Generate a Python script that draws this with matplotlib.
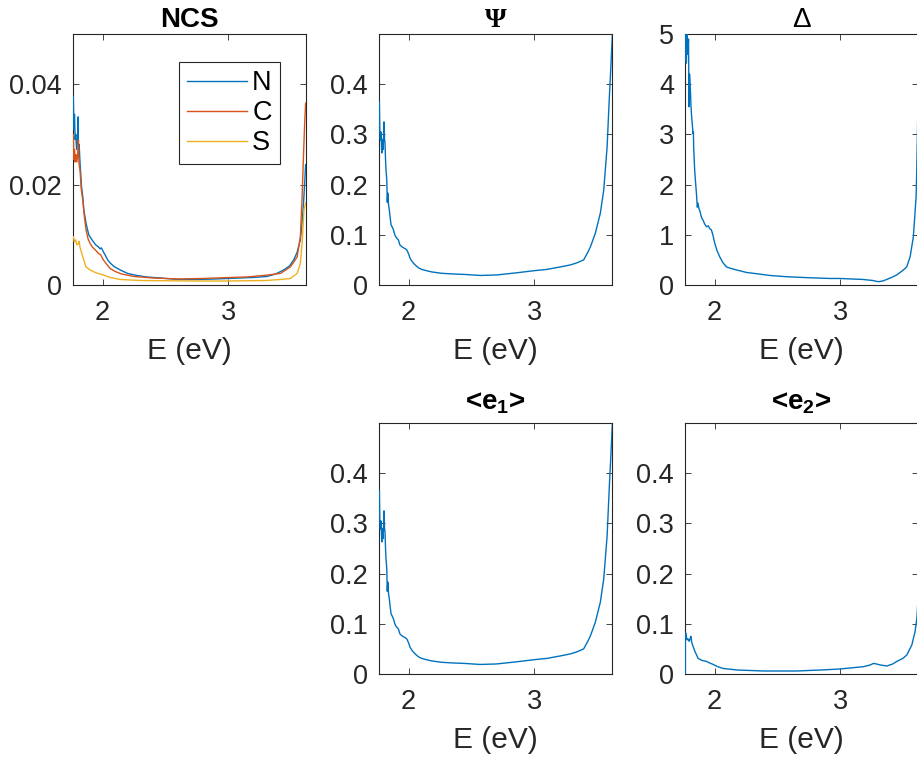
import matplotlib
matplotlib.use("Agg")
import matplotlib.pyplot as plt

plt.rcParams['font.family'] = ['Liberation Sans', 'DejaVu Sans']
plt.rcParams['mathtext.fontset'] = 'custom'
plt.rcParams['mathtext.rm'] = 'Liberation Sans:bold'
plt.rcParams['mathtext.bf'] = 'Liberation Sans:bold'

# ---------------- data ----------------
# NCS panel
ncs_E_N = [1.767, 1.771, 1.776, 1.781, 1.786, 1.793, 1.800, 1.805, 1.808, 1.813, 1.820, 1.826,
           1.832, 1.842, 1.850, 1.860, 1.868, 1.880, 1.890, 1.900, 1.915, 1.930, 1.945, 1.955,
           1.967, 1.980, 1.990, 2.006, 2.020, 2.040, 2.060, 2.090, 2.140, 2.200, 2.273, 2.350,
           2.459, 2.600, 2.750, 2.900, 3.000, 3.100, 3.200, 3.310, 3.380, 3.443, 3.490, 3.523,
           3.550, 3.576, 3.590, 3.603, 3.612, 3.618]
ncs_N = [0.0375, 0.031, 0.034, 0.029, 0.030, 0.027, 0.029, 0.0335, 0.026, 0.028, 0.0243, 0.022,
         0.0195, 0.0176, 0.015, 0.0135, 0.0123, 0.0110, 0.0100, 0.0096, 0.0090, 0.0085, 0.0080, 0.0078,
         0.0076, 0.0072, 0.0074, 0.0066, 0.0060, 0.0050, 0.0044, 0.0037, 0.0030, 0.0023, 0.0019, 0.0016,
         0.0014, 0.0011, 0.0011, 0.0012, 0.0013, 0.0014, 0.0015, 0.0017, 0.0022, 0.0030, 0.0038, 0.0050,
         0.0065, 0.0090, 0.0125, 0.0170, 0.021, 0.024]

ncs_E_C = [1.767, 1.771, 1.776, 1.781, 1.788, 1.795, 1.802, 1.807, 1.812, 1.820, 1.830, 1.842,
           1.855, 1.868, 1.884, 1.900, 1.920, 1.945, 1.967, 1.985, 2.006, 2.030, 2.060, 2.100,
           2.150, 2.250, 2.400, 2.600, 2.800, 3.018, 3.150, 3.283, 3.350, 3.416, 3.460, 3.496,
           3.530, 3.550, 3.576, 3.590, 3.600, 3.610, 3.618]
ncs_C = [0.0300, 0.025, 0.027, 0.0245, 0.026, 0.0245, 0.0262, 0.0289, 0.024, 0.0229, 0.019, 0.0169,
         0.0135, 0.0110, 0.0092, 0.0083, 0.0075, 0.0069, 0.0063, 0.0060, 0.0050, 0.0042, 0.0033, 0.0027,
         0.0022, 0.0017, 0.0014, 0.0012, 0.0013, 0.0015, 0.0016, 0.0019, 0.0021, 0.0023, 0.0030, 0.0036,
         0.0048, 0.0056, 0.0096, 0.0176, 0.025, 0.032, 0.0362]

ncs_E_S = [1.767, 1.775, 1.785, 1.795, 1.807, 1.812, 1.820, 1.842, 1.868, 1.900, 1.950, 2.006,
           2.060, 2.140, 2.300, 2.459, 2.700, 3.000, 3.300, 3.416, 3.496, 3.550, 3.576, 3.590,
           3.605, 3.618]
ncs_S = [0.0096, 0.0086, 0.0090, 0.0080, 0.0083, 0.0087, 0.0075, 0.0056, 0.0036, 0.0030, 0.0024, 0.0020,
         0.0015, 0.0011, 0.0009, 0.00086, 0.0008, 0.0008, 0.0009, 0.0011, 0.0013, 0.0023, 0.0043, 0.0083,
         0.0150, 0.0163]

# Psi panel
psi_E = [1.767, 1.771, 1.775, 1.780, 1.786, 1.792, 1.797, 1.801, 1.804, 1.808, 1.812, 1.816,
         1.820, 1.826, 1.830, 1.834, 1.840, 1.846, 1.852, 1.860, 1.870, 1.879, 1.890, 1.900,
         1.910, 1.919, 1.930, 1.946, 1.960, 1.975, 1.986, 2.000, 2.012, 2.030, 2.052, 2.080,
         2.105, 2.150, 2.185, 2.265, 2.350, 2.451, 2.570, 2.700, 2.850, 3.000, 3.100, 3.209,
         3.289, 3.340, 3.395, 3.430, 3.449, 3.488, 3.528, 3.555, 3.582, 3.600, 3.613, 3.624]
psi = [0.365, 0.300, 0.289, 0.305, 0.263, 0.290, 0.270, 0.300, 0.325, 0.290, 0.283, 0.250,
       0.229, 0.210, 0.165, 0.183, 0.160, 0.150, 0.136, 0.120, 0.115, 0.110, 0.100, 0.095,
       0.092, 0.0896, 0.080, 0.0763, 0.074, 0.072, 0.0697, 0.062, 0.053, 0.046, 0.040, 0.034,
       0.031, 0.028, 0.026, 0.0233, 0.022, 0.021, 0.019, 0.020, 0.024, 0.0285, 0.031, 0.036,
       0.040, 0.044, 0.050, 0.066, 0.076, 0.103, 0.143, 0.189, 0.275, 0.375, 0.440, 0.500]

# Delta panel
delta_E = [1.767, 1.771, 1.775, 1.779, 1.783, 1.788, 1.792, 1.796, 1.800, 1.807, 1.811, 1.815,
           1.822, 1.828, 1.831, 1.833, 1.841, 1.848, 1.855, 1.862, 1.868, 1.875, 1.881, 1.895,
           1.908, 1.920, 1.935, 1.950, 1.962, 1.974, 1.988, 2.001, 2.020, 2.041, 2.065, 2.094,
           2.130, 2.174, 2.254, 2.350, 2.440, 2.573, 2.750, 2.920, 3.000, 3.184, 3.260, 3.304,
           3.340, 3.371, 3.410, 3.451, 3.500, 3.531, 3.558, 3.584, 3.606, 3.611, 3.624]
delta = [5.20, 4.50, 4.42, 5.00, 4.60, 4.68, 4.90, 3.55, 4.20, 3.88, 3.60, 3.42,
         3.20, 3.02, 3.05, 2.75, 2.29, 2.05, 1.83, 1.55, 1.63, 1.52, 1.49, 1.35,
         1.29, 1.22, 1.16, 1.18, 1.12, 1.10, 0.98, 0.83, 0.68, 0.56, 0.45, 0.36,
         0.33, 0.30, 0.25, 0.22, 0.19, 0.165, 0.145, 0.13, 0.13, 0.11, 0.09, 0.066,
         0.08, 0.11, 0.15, 0.20, 0.29, 0.36, 0.56, 0.96, 1.76, 2.29, 4.00]

# <e1> panel (same shape as Psi in the picture)
e1_E = list(psi_E)
e1 = list(psi)

# <e2> panel
e2_E = [1.767, 1.767, 1.771, 1.776, 1.781, 1.788, 1.797, 1.804, 1.811, 1.817, 1.824, 1.843,
        1.869, 1.900, 1.936, 1.960, 1.989, 2.020, 2.069, 2.176, 2.388, 2.655, 2.850, 3.000,
        3.186, 3.240, 3.266, 3.290, 3.319, 3.373, 3.420, 3.452, 3.500, 3.532, 3.572, 3.598,
        3.612, 3.624]
e2 = [0.0, 0.078, 0.081, 0.072, 0.068, 0.070, 0.065, 0.070, 0.075, 0.064, 0.058, 0.045,
      0.031, 0.027, 0.025, 0.022, 0.019, 0.015, 0.011, 0.008, 0.006, 0.006, 0.008, 0.010,
      0.0146, 0.018, 0.021, 0.020, 0.018, 0.016, 0.020, 0.025, 0.031, 0.038, 0.058, 0.085,
      0.111, 0.160]

xlim = (1.764, 3.621)
c_blue, c_red, c_yel = '#0072BD', '#D95319', '#EDB120'
dark = '#262626'

# ---------------- figure ----------------
W, H = 917, 759
fig = plt.figure(figsize=(W / 100, H / 100), dpi=100)


def make_ax(left_px, top_px, ylim, yticks, yticklabels):
    ax = fig.add_axes([left_px / W, 1 - (top_px + 251) / H, 233 / W, 251 / H])
    ax.set_xlim(*xlim)
    ax.set_ylim(*ylim)
    ax.set_xticks([2, 3])
    ax.set_xticklabels(['2', '3'])
    ax.set_yticks(yticks)
    ax.set_yticklabels(yticklabels)
    ax.tick_params(direction='in', length=4, width=0.6, colors=dark, labelsize=19.5,
                   top=True, right=True)
    ax.tick_params(axis='x', pad=11)
    ax.tick_params(axis='y', pad=8)
    for s in ax.spines.values():
        s.set_color(dark)
        s.set_linewidth(0.8)
    ax.set_xlabel('E (eV)', fontsize=21.5, color=dark, labelpad=7.5)
    return ax


lw = 1.0
ax1 = make_ax(73, 34, (0, 0.05), [0, 0.02, 0.04], ['0', '0.02', '0.04'])
ax1.plot(ncs_E_N, ncs_N, color=c_blue, lw=lw, label='N', zorder=3)
ax1.plot(ncs_E_C, ncs_C, color=c_red, lw=lw, label='C', zorder=3)
ax1.plot(ncs_E_S, ncs_S, color=c_yel, lw=lw, label='S', zorder=3)
ax1.set_title('NCS', fontsize=20, fontweight='bold', color='black', pad=5)
leg = ax1.legend(loc='upper right', bbox_to_anchor=(0.888, 0.888), borderaxespad=0,
                 fontsize=19.5, handlelength=2.2, handletextpad=0.2, labelspacing=0.15,
                 borderpad=0.3, fancybox=False, framealpha=1)
leg.get_frame().set_edgecolor(dark)
leg.get_frame().set_linewidth(0.8)

tk01 = [0, 0.1, 0.2, 0.3, 0.4]
tl01 = ['0', '0.1', '0.2', '0.3', '0.4']

ax2 = make_ax(379, 34, (0, 0.5), tk01, tl01)
ax2.plot(psi_E, psi, color=c_blue, lw=lw, zorder=3)
ax2.set_title('Ψ', fontsize=20, family='Liberation Serif', fontweight='bold',
              color='black', pad=5)

ax3 = make_ax(685, 34, (0, 5), [0, 1, 2, 3, 4, 5], ['0', '1', '2', '3', '4', '5'])
ax3.plot(delta_E, delta, color=c_blue, lw=lw, zorder=3)
ax3.set_title('Δ', fontsize=20, color='black', pad=5)

ax4 = make_ax(379, 423, (0, 0.5), tk01, tl01)
ax4.plot(e1_E, e1, color=c_blue, lw=lw, zorder=3)
ax4.set_title('<e$_{1}$>', fontsize=20, fontweight='bold', color='black', pad=10)

ax5 = make_ax(685, 423, (0, 0.5), tk01, tl01)
ax5.plot(e2_E, e2, color=c_blue, lw=lw, zorder=3)
ax5.set_title('<e$_{2}$>', fontsize=20, fontweight='bold', color='black', pad=10)

fig.savefig('out.png', dpi=100)
